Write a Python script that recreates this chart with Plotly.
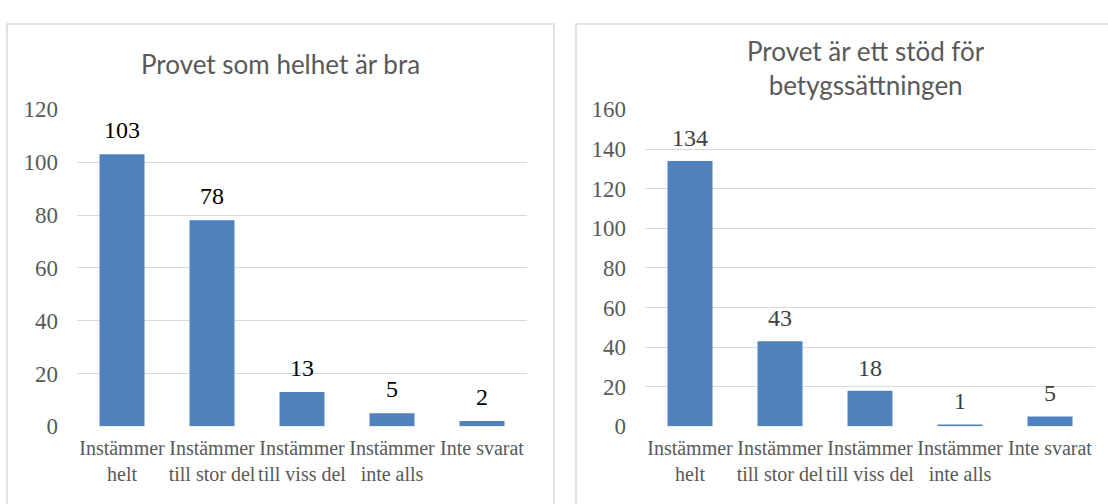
import plotly.graph_objects as go

categories = ["Instämmer helt", "Instämmer till stor del", "Instämmer till viss del",
              "Instämmer inte alls", "Inte svarat"]
tick_labels = ["Instämmer<br>helt", "Instämmer<br>till stor del", "Instämmer<br>till viss del",
               "Instämmer<br>inte alls", "Inte svarat"]
values_left = [103, 78, 13, 5, 2]
values_right = [134, 43, 18, 1, 5]
title_left = "Provet som helhet är bra"
title_right = "Provet är ett stöd för<br>betygssättningen"
ticks_left = [0, 20, 40, 60, 80, 100, 120]
ticks_right = [0, 20, 40, 60, 80, 100, 120, 140, 160]

W, H = 1108, 504
BAR = "#4F81BD"
GRID = "#D9D9D9"
GRAY = "#595959"
SERIF = "Liberation Serif, Times New Roman, serif"
SANS = "Lato, Calibri, sans-serif"

fig = go.Figure()
fig.add_trace(go.Bar(x=categories, y=values_left, marker=dict(color=BAR, line=dict(width=0)),
                     width=0.5, xaxis="x", yaxis="y", showlegend=False, hoverinfo="x+y"))
fig.add_trace(go.Bar(x=categories, y=values_right, marker=dict(color=BAR, line=dict(width=0)),
                     width=0.5, xaxis="x2", yaxis="y2", showlegend=False, hoverinfo="x+y"))

ydom = [(H - 436) / H, (H - 102.5) / H]
xaxis_common = dict(type="category", categoryorder="array", categoryarray=categories,
                    tickmode="array", tickvals=categories, ticktext=tick_labels,
                    showgrid=False, showline=False, zeroline=False, ticks="",
                    tickfont=dict(family=SERIF, size=20, color=GRAY), tickangle=0,
                    ticklabelstandoff=8, fixedrange=True)
yaxis_common = dict(showgrid=True, gridcolor=GRID, gridwidth=1, zeroline=False, showline=False,
                    ticks="", tickfont=dict(family=SERIF, size=23, color=GRAY),
                    ticklabelstandoff=18, fixedrange=True)

fig.update_layout(
    width=W, height=H, margin=dict(l=0, r=0, t=0, b=0), autosize=False,
    paper_bgcolor="white", plot_bgcolor="white", bargap=0.5,
    xaxis=dict(domain=[77 / W, 527 / W], anchor="y", **xaxis_common),
    yaxis=dict(domain=ydom, anchor="x", range=[0, 120], tickvals=ticks_left, **yaxis_common),
    xaxis2=dict(domain=[645 / W, 1095 / W], anchor="y2", **xaxis_common),
    yaxis2=dict(domain=ydom, anchor="x2", range=[0, 160], tickvals=ticks_right, **yaxis_common),
)

shapes = [
    dict(type="rect", xref="paper", yref="paper", x0=7 / W, x1=554 / W, y0=-0.05, y1=(H - 12.5) / H,
         line=dict(color=GRID, width=1.5), fillcolor="rgba(0,0,0,0)", layer="below"),
    dict(type="rect", xref="paper", yref="paper", x0=576 / W, x1=1.05, y0=-0.05, y1=(H - 12.5) / H,
         line=dict(color=GRID, width=1.5), fillcolor="rgba(0,0,0,0)", layer="below"),
]
fig.update_layout(shapes=shapes)

annotations = [
    dict(text=title_left, xref="paper", yref="paper", x=280 / W, y=(H - 55) / H,
         xanchor="center", yanchor="middle", showarrow=False,
         font=dict(family=SANS, size=26, color=GRAY)),
    dict(text=title_right, xref="paper", yref="paper", x=866 / W, y=(H - 59) / H,
         xanchor="center", yanchor="middle", showarrow=False,
         font=dict(family=SANS, size=26, color=GRAY)),
]
for c, v in zip(categories, values_left):
    annotations.append(dict(text=str(v), x=c, y=v, xref="x", yref="y", xanchor="center",
                            yanchor="bottom", yshift=9, showarrow=False,
                            font=dict(family=SERIF, size=24, color="#000000")))
for c, v in zip(categories, values_right):
    annotations.append(dict(text=str(v), x=c, y=v, xref="x2", yref="y2", xanchor="center",
                            yanchor="bottom", yshift=8, showarrow=False,
                            font=dict(family=SERIF, size=24, color="#404040")))
fig.update_layout(annotations=annotations)

fig.write_html("out.html", config={"displayModeBar": False},
               post_script="document.body.style.margin='0';document.body.style.overflow='hidden';")
